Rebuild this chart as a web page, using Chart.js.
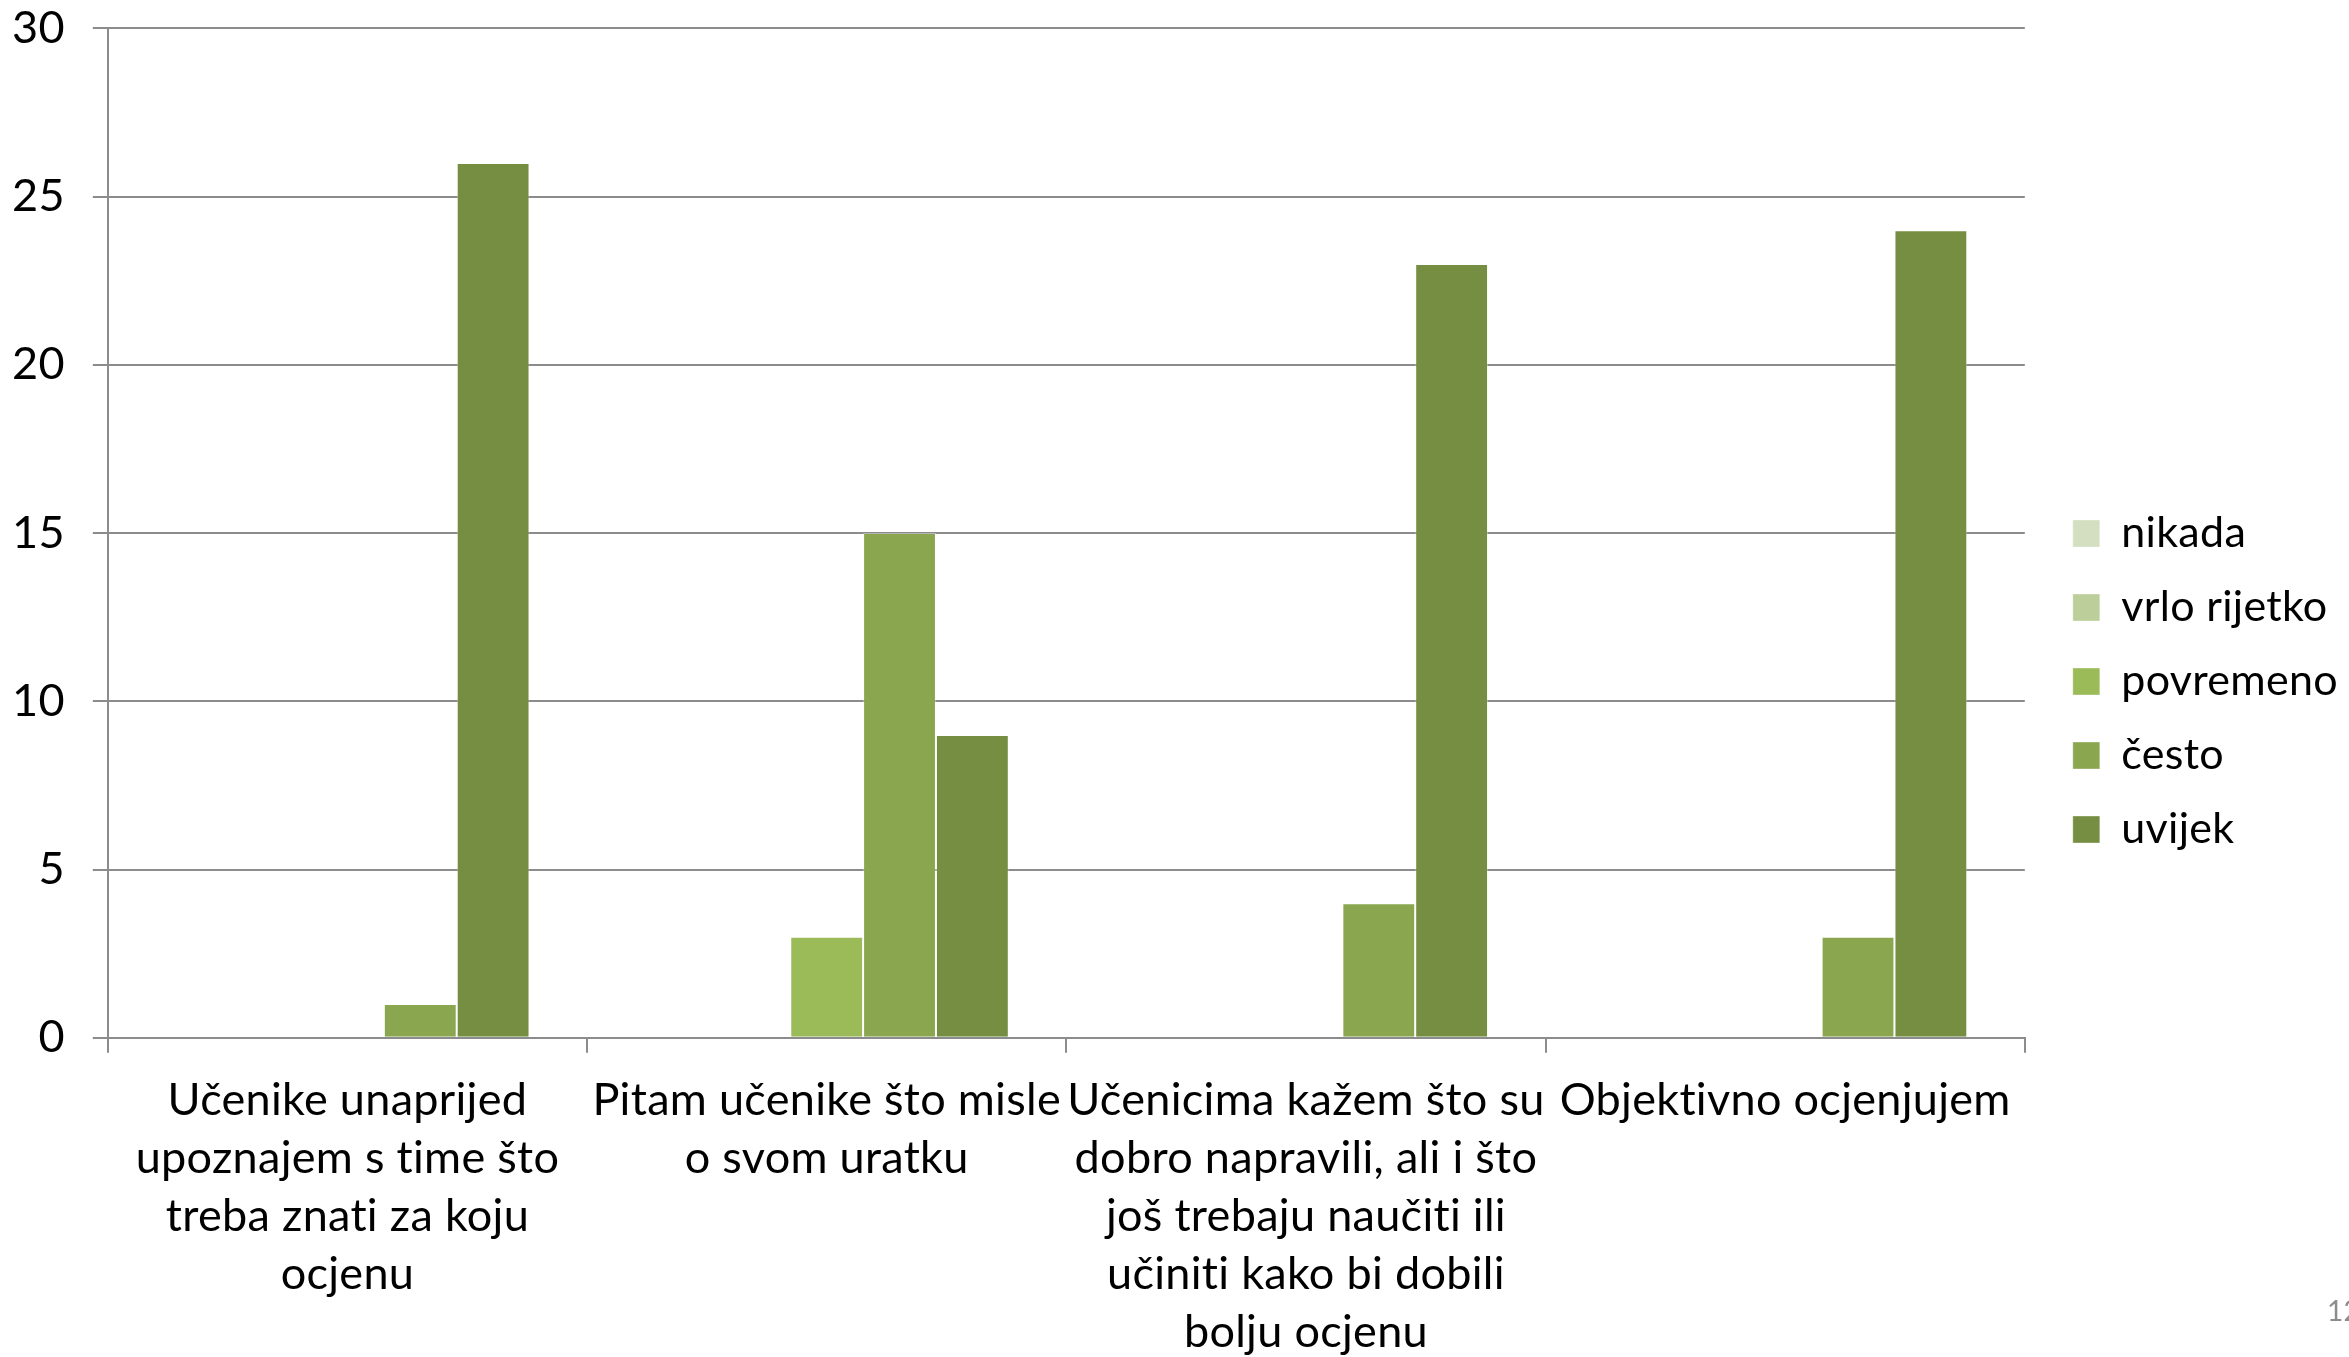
<!DOCTYPE html>
<html>
<head>
<meta charset="utf-8">
<script src="https://cdn.jsdelivr.net/npm/chart.js@4/dist/chart.umd.min.js"></script>
<style>
  html, body { margin: 0; padding: 0; background: #fff; }
  #wrap { width: 2349px; height: 1357px; position: relative; }
</style>
</head>
<body>
<div id="wrap"><canvas id="chart"></canvas></div>
<script>
// kategorije (pitanja)
const categories = [
  ['Učenike unaprijed', 'upoznajem s time što', 'treba znati za koju', 'ocjenu'],
  ['Pitam učenike što misle', 'o svom uratku'],
  ['Učenicima kažem što su', 'dobro napravili, ali i što', 'još trebaju naučiti ili', 'učiniti kako bi dobili', 'bolju ocjenu'],
  ['Objektivno ocjenjujem']
];

const seriesNames = ['nikada', 'vrlo rijetko', 'povremeno', 'često', 'uvijek'];
const nikada = [0, 0, 0, 0];
const vrloRijetko = [0, 0, 0, 0];
const povremeno = [0, 3, 0, 0];
const cesto = [1, 15, 4, 3];
const uvijek = [26, 9, 23, 24];
const yTicks = [0, 5, 10, 15, 20, 25, 30];

const colors = ['#D3DFC0', '#BCCF9A', '#9BBB59', '#8AA64F', '#758E42'];
const seriesData = [nikada, vrloRijetko, povremeno, cesto, uvijek];

const FONT = 'Lato, "Open Sans", sans-serif';

// bez ligatura (Lato spaja "ti")
const noLigatures = {
  id: 'noLigatures',
  beforeUpdate(chart) { chart.ctx.letterSpacing = '0.3px'; },
  beforeDraw(chart) { chart.ctx.letterSpacing = '0.3px'; }
};

// legenda malo desno i gore, kao u originalu
const legendShift = {
  id: 'legendShift',
  afterLayout(chart) {
    const lg = chart.legend;
    lg.left += 17; lg.right += 17;
    lg.top -= 9; lg.bottom -= 9;
  }
};

// broj stranice dolje desno
const pageNumber = {
  id: 'pageNumber',
  afterDraw(chart) {
    const ctx = chart.ctx;
    ctx.save();
    ctx.font = '28px ' + FONT;
    ctx.fillStyle = '#8c8c8c';
    ctx.textBaseline = 'middle';
    ctx.fillText('12', 2327, 1312);
    ctx.restore();
  }
};

new Chart(document.getElementById('chart'), {
  type: 'bar',
  data: {
    labels: categories,
    datasets: seriesNames.map((name, i) => ({
      label: name,
      data: seriesData[i],
      backgroundColor: colors[i],
      borderColor: 'rgba(255,255,255,0.35)',
      borderWidth: 1,
      categoryPercentage: 0.76,
      barPercentage: 1
    }))
  },
  options: {
    responsive: true,
    maintainAspectRatio: false,
    animation: false,
    layout: { padding: { top: 0, left: -16, right: 18, bottom: -24 } },
    scales: {
      y: {
        min: 0,
        max: 30,
        afterBuildTicks(axis) { axis.ticks = yTicks.map(v => ({ value: v })); },
        border: { display: true, color: '#8c8c8c', width: 2 },
        grid: { color: '#8c8c8c', lineWidth: 2, tickLength: 15, drawTicks: true },
        ticks: { color: '#000', font: { family: FONT, size: 45, lineHeight: 0.02 }, padding: 28 }
      },
      x: {
        border: { display: true, color: '#8c8c8c', width: 2 },
        grid: { offset: true, drawOnChartArea: false, color: '#8c8c8c', lineWidth: 2, tickLength: 15 },
        ticks: {
          color: '#000',
          font: { family: FONT, size: 45, lineHeight: 1.29 },
          maxRotation: 0,
          minRotation: 0,
          autoSkip: false,
          padding: 19
        }
      }
    },
    plugins: {
      legend: {
        position: 'right',
        align: 'center',
        labels: {
          color: '#000',
          font: { family: FONT, size: 43 },
          boxWidth: 27,
          boxHeight: 27,
          padding: 31
        }
      },
      tooltip: { enabled: false }
    }
  },
  plugins: [noLigatures, legendShift, pageNumber]
});
</script>
</body>
</html>
